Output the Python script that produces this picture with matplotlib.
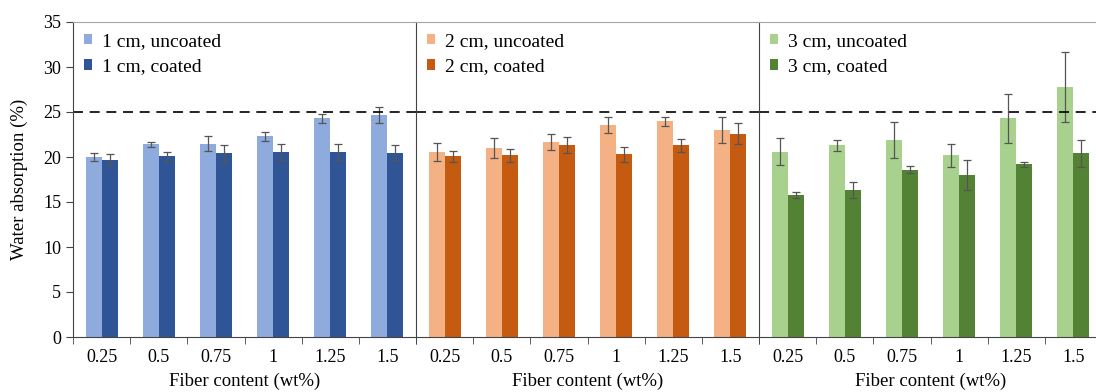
import matplotlib.pyplot as plt
import numpy as np

plt.rcParams['font.family'] = ['Liberation Serif', 'DejaVu Serif']

fiber = ['0.25', '0.5', '0.75', '1', '1.25', '1.5']
lengths = ['1 cm', '2 cm', '3 cm']

# water absorption (%) and error, per fiber length
uncoated = [
    [20.0, 21.4, 21.5, 22.3, 24.3, 24.7],
    [20.6, 21.0, 21.7, 23.6, 24.0, 23.0],
    [20.6, 21.3, 21.9, 20.2, 24.3, 27.8],
]
uncoated_err = [
    [0.4, 0.3, 0.8, 0.5, 0.5, 0.9],
    [1.0, 1.1, 0.9, 0.9, 0.5, 1.4],
    [1.5, 0.6, 2.0, 1.3, 2.7, 3.9],
]
coated = [
    [19.7, 20.1, 20.4, 20.6, 20.6, 20.5],
    [20.1, 20.2, 21.3, 20.3, 21.3, 22.6],
    [15.8, 16.3, 18.6, 18.0, 19.2, 20.4],
]
coated_err = [
    [0.6, 0.5, 0.9, 0.9, 0.9, 0.8],
    [0.6, 0.7, 0.9, 0.8, 0.7, 1.2],
    [0.3, 0.9, 0.4, 1.7, 0.3, 1.5],
]

light_colors = ['#8faadc', '#f4b183', '#a9d18e']
dark_colors = ['#2f5597', '#c55a11', '#548235']

W, H = 1096, 392
fig = plt.figure(figsize=(W / 100, H / 100), dpi=100)

left_px, top_px, bottom_px = 73, 22, 337
panel_w = 343
x = np.arange(len(fiber))
bw = 0.28

for k in range(3):
    ax = fig.add_axes([(left_px + k * panel_w) / W, (H - bottom_px) / H,
                       panel_w / W, (bottom_px - top_px) / H])
    ax.bar(x - bw / 2, uncoated[k], bw, color=light_colors[k],
           label=f'{lengths[k]}, uncoated')
    ax.bar(x + bw / 2, coated[k], bw, color=dark_colors[k],
           label=f'{lengths[k]}, coated')
    ax.errorbar(x - bw / 2, uncoated[k], yerr=uncoated_err[k], fmt='none',
                ecolor='#555555', elinewidth=0.9, capsize=3, capthick=0.9)
    ax.errorbar(x + bw / 2, coated[k], yerr=coated_err[k], fmt='none',
                ecolor='#555555', elinewidth=0.9, capsize=3, capthick=0.9)
    ax.axhline(25, color='black', linestyle=(0, (6, 4)), linewidth=1.2)

    ax.set_xlim(-0.5, len(fiber) - 0.5)
    ax.set_ylim(0, 35)
    ax.set_xticks(x)
    ax.set_xticklabels(fiber, fontsize=13)
    ax.tick_params(axis='x', length=0, pad=9)
    ax.set_xticks(np.arange(-0.5, len(fiber)), minor=True)
    ax.tick_params(axis='x', which='minor', length=5, color='#444444')
    ax.set_xlabel('Fiber content (wt%)', fontsize=13.5, labelpad=4.5)

    if k == 0:
        ax.set_yticks(np.arange(0, 36, 5))
        ax.tick_params(axis='y', labelsize=13, length=5, color='#444444')
        ax.set_ylabel('Water absorption (%)', fontsize=13.5, labelpad=11)
    else:
        ax.set_yticks([])

    ax.spines['top'].set_color('#a6a6a6')
    ax.spines['bottom'].set_color('#444444')
    ax.spines['left'].set_color('#444444')
    ax.spines['right'].set_visible(False)

    ax.legend(loc='upper left', frameon=False, fontsize=14, handlelength=0.45,
              handleheight=0.45, handletextpad=0.5, labelspacing=0.45,
              borderaxespad=0.2, borderpad=0.35)

fig.savefig('out.png', dpi=100)
